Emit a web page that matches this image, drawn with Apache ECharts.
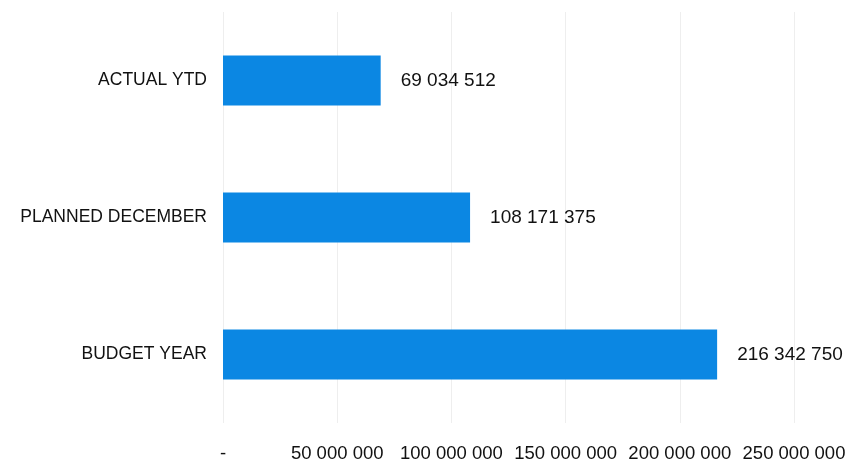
<!DOCTYPE html>
<html>
<head>
<meta charset="utf-8">
<script src="https://cdn.jsdelivr.net/npm/echarts@6/dist/echarts.min.js"></script>
<style>
  html, body { margin: 0; padding: 0; background: #fff; }
  #chart { width: 854px; height: 470px; }
</style>
</head>
<body>
<div id="chart"></div>
<script>
// categories listed bottom -> top (category axis on y starts from bottom)
var categories = ['BUDGET YEAR', 'PLANNED DECEMBER', 'ACTUAL YTD'];
var values = [216342750, 108171375, 69034512];
var xTickLabels = ['-', '50 000 000', '100 000 000', '150 000 000', '200 000 000', '250 000 000'];

var font = '"Liberation Sans", Arial, sans-serif';

function spaced(n) {
  return String(n).replace(/\B(?=(\d{3})+(?!\d))/g, ' ');
}

var myChart = echarts.init(document.getElementById('chart'));
var option = {
  animation: false,
  grid: { left: 223, right: 60, top: 12, bottom: 47, containLabel: false, outerBoundsMode: 'none' },
  xAxis: {
    type: 'value',
    min: 0,
    max: 250000000,
    interval: 50000000,
    axisLine: { show: false },
    axisTick: { show: false },
    splitLine: { show: true, lineStyle: { color: '#eeeeee', width: 1 } },
    axisLabel: {
      margin: 21,
      color: '#111',
      fontFamily: font,
      fontSize: 18.5,
      hideOverlap: false,
      formatter: function (v) { return xTickLabels[Math.round(v / 50000000)]; }
    }
  },
  yAxis: {
    type: 'category',
    data: categories,
    axisLine: { show: false },
    axisTick: { show: false },
    splitLine: { show: false },
    axisLabel: {
      margin: 16,
      color: '#111',
      fontFamily: font,
      fontSize: 17.5
    }
  },
  series: [{
    type: 'bar',
    data: values,
    barWidth: 50,
    itemStyle: { color: '#0b87e3' },
    label: {
      show: true,
      position: 'right',
      distance: 20,
      color: '#111',
      fontFamily: font,
      fontSize: 19,
      formatter: function (p) { return spaced(p.value); }
    }
  }]
};
myChart.setOption(option);
</script>
</body>
</html>
